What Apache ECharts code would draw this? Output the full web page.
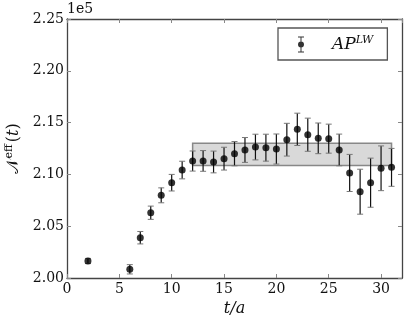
<!DOCTYPE html>
<html>
<head>
<meta charset="utf-8">
<script src="https://cdn.jsdelivr.net/npm/echarts@6/dist/echarts.min.js"></script>
<style>
  html, body { margin: 0; padding: 0; background: #fff; }
  #chart { width: 407px; height: 323px; }
</style>
</head>
<body>
<div id="chart"></div>
<script>
// time slices t/a
var tValues = [2, 6, 7, 8, 9, 10, 11, 12, 13, 14, 15, 16, 17, 18, 19, 20, 21, 22, 23, 24, 25, 26, 27, 28, 29, 30, 31]
// N_eff(t), in units of 1e5
var nEff = [2.0164, 2.0084, 2.0389, 2.0630, 2.0798, 2.0920, 2.1042, 2.1129, 2.1130, 2.1120, 2.1152, 2.1200,
  2.1236, 2.1264, 2.1258, 2.1245, 2.1335, 2.1435, 2.1383, 2.1348, 2.1345, 2.1236, 2.1014, 2.0833, 2.0920,
  2.1059, 2.1068]
var nErr = [0.0025, 0.0045, 0.0060, 0.0064, 0.0072, 0.0080, 0.0085, 0.0097, 0.0100, 0.0105, 0.0110, 0.0117,
  0.0120, 0.0124, 0.0130, 0.0145, 0.0158, 0.0156, 0.0160, 0.0148, 0.0140, 0.0153, 0.0179, 0.0217, 0.0237,
  0.0216, 0.0183]
// fit band: t range and value range (1e5 units)
var bandT = [12, 31]
var bandN = [2.1085, 2.1300]
var xTicks = [0, 5, 10, 15, 20, 25, 30]
var yTicks = [2.00, 2.05, 2.10, 2.15, 2.20, 2.25]

var SCALE = 1e5
var serif = 'DejaVu Serif'

var points = tValues.map(function (t, i) { return [t, nEff[i] * SCALE] })
var bars = tValues.map(function (t, i) { return [t, nEff[i] * SCALE, nErr[i] * SCALE] })

var chart = echarts.init(document.getElementById('chart'))

// 两侧都带刻度的坐标轴
function frameAxis (pos, isX, showLabel) {
  var ax = {
    type: 'value',
    position: pos,
    min: isX ? xTicks[0] : yTicks[0] * SCALE,
    max: isX ? 32 : yTicks[yTicks.length - 1] * SCALE,
    interval: isX ? xTicks[1] - xTicks[0] : (yTicks[1] - yTicks[0]) * SCALE,
    splitLine: { show: false },
    axisLine: { show: true, onZero: false, lineStyle: { color: '#444', width: 1.3 } },
    axisTick: { show: true, inside: true, length: 4, lineStyle: { color: '#888' } },
    axisLabel: { show: showLabel }
  }
  if (showLabel) {
    ax.axisLabel = {
      show: true,
      color: '#111',
      fontFamily: serif,
      fontSize: 14,
      margin: isX ? 4 : 3,
      showMaxLabel: !isX,
      formatter: function (v) {
        return isX ? String(v) : (v / SCALE).toFixed(2)
      }
    }
  }
  return ax
}

var xBottom = frameAxis('bottom', true, true)
xBottom.name = 't/a'
xBottom.nameLocation = 'middle'
xBottom.nameGap = 22
xBottom.nameTextStyle = { fontFamily: serif, fontStyle: 'italic', fontSize: 16, color: '#111' }

var yLeft = frameAxis('left', false, true)
yLeft.name = '{n|𝒩}{s|eff}{n|(}{t|t}{n|)}'
yLeft.nameLocation = 'middle'
yLeft.nameRotate = 90
yLeft.nameGap = 44
yLeft.nameTextStyle = {
  color: '#111',
  rich: {
    n: { fontFamily: serif, fontSize: 16, color: '#111' },
    t: { fontFamily: serif, fontStyle: 'italic', fontSize: 16, color: '#111' },
    s: { fontFamily: serif, fontSize: 11, color: '#111', verticalAlign: 'top', padding: [0, 2, 8, 0] }
  }
}

var option = {
  animation: false,
  backgroundColor: '#fff',
  grid: { left: 67, right: 5, top: 19, bottom: 45, outerBoundsMode: 'none', containLabel: false },
  xAxis: [xBottom, frameAxis('top', true, false)],
  yAxis: [yLeft, frameAxis('right', false, false)],
  legend: {
    left: 278,
    top: 28,
    orient: 'horizontal',
    padding: [7, 14, 7, 20],
    borderColor: '#555',
    borderWidth: 1.3,
    itemWidth: 8,
    itemHeight: 16,
    data: [{
      name: 'AP',
      icon: 'path://M2,0H8V1H5.5V15H8V16H2V15H4.5V1H2Z M8,8A3,3 0 1,1 2,8A3,3 0 1,1 8,8Z'
    }],
    formatter: function () { return '{i|AP}{s|LW}' },
    textStyle: {
      rich: {
        i: { fontFamily: serif, fontStyle: 'italic', fontSize: 17, color: '#111', padding: [0, 0, 0, 22] },
        s: { fontFamily: serif, fontStyle: 'italic', fontSize: 11, color: '#111', verticalAlign: 'top', padding: [0, 0, 8, 0] }
      }
    },
    itemStyle: { color: '#000' }
  },
  graphic: [{
    type: 'text',
    left: 67,
    top: 2,
    style: { text: '1e5', font: '14px "DejaVu Serif"', fill: '#111' }
  }],
  series: [
    {
      name: 'band',
      type: 'line',
      data: [],
      z: 1,
      silent: true,
      markArea: {
        silent: true,
        itemStyle: { color: '#d9d9d9', borderColor: '#888', borderWidth: 1.5 },
        data: [[
          { coord: [bandT[0], bandN[0] * SCALE] },
          { coord: [bandT[1], bandN[1] * SCALE] }
        ]]
      }
    },
    {
      name: 'err',
      type: 'custom',
      z: 3,
      silent: true,
      data: bars,
      renderItem: function (params, api) {
        var x = api.value(0)
        var y = api.value(1)
        var e = api.value(2)
        var lo = api.coord([x, y - e])
        var hi = api.coord([x, y + e])
        var cap = 3
        return {
          type: 'group',
          children: [
            { type: 'line', shape: { x1: lo[0], y1: lo[1], x2: hi[0], y2: hi[1] }, style: { stroke: '#111', lineWidth: 1.2 } },
            { type: 'line', shape: { x1: lo[0] - cap, y1: lo[1], x2: lo[0] + cap, y2: lo[1] }, style: { stroke: '#777', lineWidth: 1 } },
            { type: 'line', shape: { x1: hi[0] - cap, y1: hi[1], x2: hi[0] + cap, y2: hi[1] }, style: { stroke: '#777', lineWidth: 1 } }
          ]
        }
      }
    },
    {
      name: 'AP',
      type: 'scatter',
      z: 4,
      symbol: 'circle',
      symbolSize: 7,
      itemStyle: { color: '#000' },
      data: points
    }
  ]
}

chart.setOption(option)
</script>
</body>
</html>
